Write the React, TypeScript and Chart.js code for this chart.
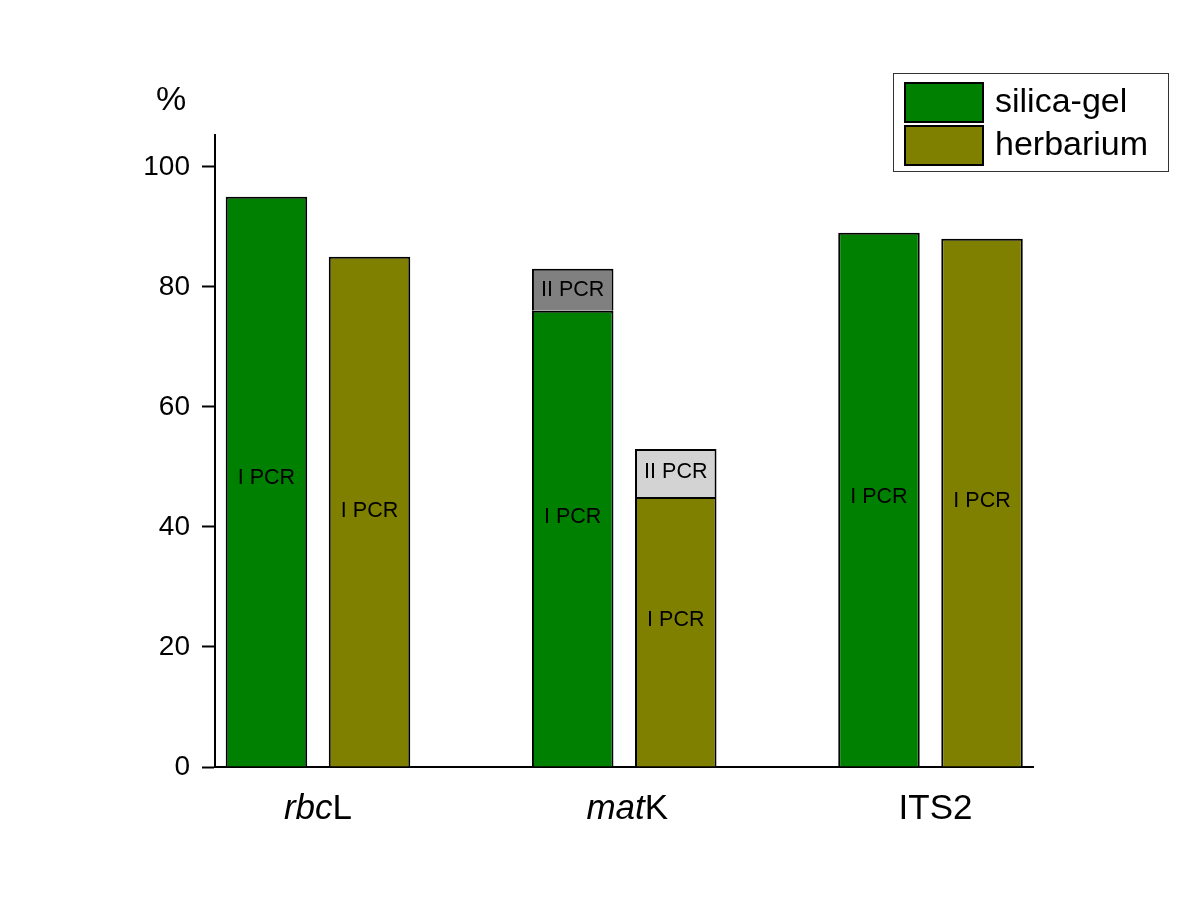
import React, { useEffect, useRef } from "react";
import { Chart, registerables } from "chart.js";

Chart.register(...registerables);

const FONT = "'Liberation Sans', Arial, sans-serif";

// Categories (gene regions); first part italic, second part upright
const categories = ["rbcL", "matK", "ITS2"];
const categoryItalic = ["rbc", "mat", ""];
const categoryRoman = ["L", "K", "ITS2"];
const categoryPositions = [1, 2, 3];

// Series values (%)
const silicaFirstPCR = [95, 76, 89];
const silicaSecondPCR: (number | null)[] = [null, 7, null];
const herbariumFirstPCR = [85, 45, 88];
const herbariumSecondPCR: (number | null)[] = [null, 8, null];

// Where the in-bar text sits (value on the y axis)
const silicaFirstLabelAt = [48.2, 41.7, 45];
const silicaSecondLabelAt: (number | null)[] = [null, 79.5, null];
const herbariumFirstLabelAt = [42.7, 24.5, 44.3];
const herbariumSecondLabelAt: (number | null)[] = [null, 49.2, null];

const segmentNames = ["I PCR", "II PCR", "I PCR", "II PCR"];
const legendNames = ["silica-gel", "herbarium"];
const yTickStep = 20;
const yMax = 105.3;
const yUnit = "%";

const GREEN = "#008000";
const OLIVE = "#808000";
const DARK_GREY = "#808080";
const LIGHT_GREY = "#D3D3D3";

export default function App() {
  const canvasRef = useRef<HTMLCanvasElement | null>(null);

  useEffect(() => {
    const canvas = canvasRef.current;
    if (!canvas) return;

    const labelPositions = [
      silicaFirstLabelAt,
      silicaSecondLabelAt,
      herbariumFirstLabelAt,
      herbariumSecondLabelAt,
    ];

    const barTextPlugin = {
      id: "barText",
      afterDatasetsDraw(chart: any) {
        const ctx = chart.ctx;
        const y = chart.scales.y;
        ctx.save();
        ctx.fillStyle = "#000";
        ctx.font = `21.5px ${FONT}`;
        ctx.textAlign = "center";
        ctx.textBaseline = "middle";
        chart.data.datasets.forEach((ds: any, di: number) => {
          const meta = chart.getDatasetMeta(di);
          ds.data.forEach((v: any, i: number) => {
            if (v === null || v === undefined) return;
            const pos = labelPositions[di][i];
            if (pos === null || pos === undefined) return;
            const bar = meta.data[i];
            ctx.fillText(segmentNames[di], bar.x, y.getPixelForValue(pos));
          });
        });
        ctx.restore();
      },
    };

    const decorPlugin = {
      id: "decor",
      afterDraw(chart: any) {
        const ctx = chart.ctx;
        const xs = chart.scales.x;
        ctx.save();
        ctx.fillStyle = "#000";
        // category labels
        ctx.textBaseline = "alphabetic";
        ctx.textAlign = "left";
        const shifts = [0, 3, 5];
        categories.forEach((_, i) => {
          const cx = xs.getPixelForValue(categoryPositions[i]);
          ctx.font = `italic 35px ${FONT}`;
          const wi = ctx.measureText(categoryItalic[i]).width;
          ctx.font = `35px ${FONT}`;
          const wr = ctx.measureText(categoryRoman[i]).width;
          const start = cx + shifts[i] - (wi + wr) / 2;
          ctx.font = `italic 35px ${FONT}`;
          ctx.fillText(categoryItalic[i], start, 819);
          ctx.font = `35px ${FONT}`;
          ctx.fillText(categoryRoman[i], start + wi, 819);
        });
        // unit label
        ctx.font = `34px ${FONT}`;
        ctx.textBaseline = "middle";
        ctx.fillText(yUnit, 156, 101);
        // legend box
        ctx.strokeStyle = "#333";
        ctx.lineWidth = 1;
        ctx.fillStyle = "#fff";
        ctx.fillRect(893.5, 73.5, 275, 98);
        ctx.strokeRect(893.5, 73.5, 275, 98);
        const swatchColors = [GREEN, OLIVE];
        const rows = [83, 126];
        legendNames.forEach((name, i) => {
          ctx.fillStyle = swatchColors[i];
          ctx.fillRect(905, rows[i], 78, 39);
          ctx.strokeStyle = "#000";
          ctx.lineWidth = 2;
          ctx.strokeRect(905, rows[i], 78, 39);
          ctx.fillStyle = "#000";
          ctx.font = `34px ${FONT}`;
          ctx.textBaseline = "middle";
          ctx.fillText(name, 995, rows[i] + 20);
        });
        ctx.restore();
      },
    };

    const common = {
      borderColor: "#000",
      borderWidth: 2,
      categoryPercentage: 0.673,
      barPercentage: 0.791,
    };

    const chart = new Chart(canvas, {
      type: "bar",
      data: {
        labels: categoryPositions,
        datasets: [
          { label: "silica-gel I PCR", data: silicaFirstPCR, backgroundColor: GREEN, stack: "silica", ...common },
          { label: "silica-gel II PCR", data: silicaSecondPCR, backgroundColor: DARK_GREY, stack: "silica", ...common },
          { label: "herbarium I PCR", data: herbariumFirstPCR, backgroundColor: OLIVE, stack: "herbarium", ...common },
          { label: "herbarium II PCR", data: herbariumSecondPCR, backgroundColor: LIGHT_GREY, stack: "herbarium", ...common },
        ],
      } as any,
      options: {
        animation: false,
        responsive: false,
        events: [],
        layout: { padding: { left: 0, right: 167, top: 135, bottom: 153 } },
        plugins: {
          legend: { display: false },
          tooltip: { enabled: false },
          title: { display: false },
        },
        scales: {
          x: {
            type: "linear",
            min: 0.6637,
            max: 3.3347,
            offset: false,
            stacked: true,
            ticks: { display: false, stepSize: 1, includeBounds: false },
            grid: { display: true, drawOnChartArea: false, drawTicks: false, offset: false },
            border: { display: true, color: "#000", width: 2 },
            afterFit: (s: any) => {
              s.height = 0;
            },
          },
          y: {
            type: "linear",
            min: 0,
            max: yMax,
            stacked: true,
            ticks: {
              stepSize: yTickStep,
              includeBounds: false,
              color: "#000",
              padding: 12,
              font: { family: FONT, size: 28 },
            },
            grid: {
              drawOnChartArea: false,
              drawTicks: true,
              tickLength: 13,
              tickWidth: 2,
              tickColor: "#000",
            },
            border: { display: true, color: "#000", width: 2 },
            afterFit: (s: any) => {
              s.width = 215;
            },
          },
        },
      } as any,
      plugins: [barTextPlugin, decorPlugin],
    });

    return () => chart.destroy();
  }, []);

  return (
    <div style={{ position: "fixed", left: 0, top: 0, width: 1200, height: 920, background: "#fff" }}>
      <canvas ref={canvasRef} width={1200} height={920} style={{ display: "block" }} />
    </div>
  );
}
